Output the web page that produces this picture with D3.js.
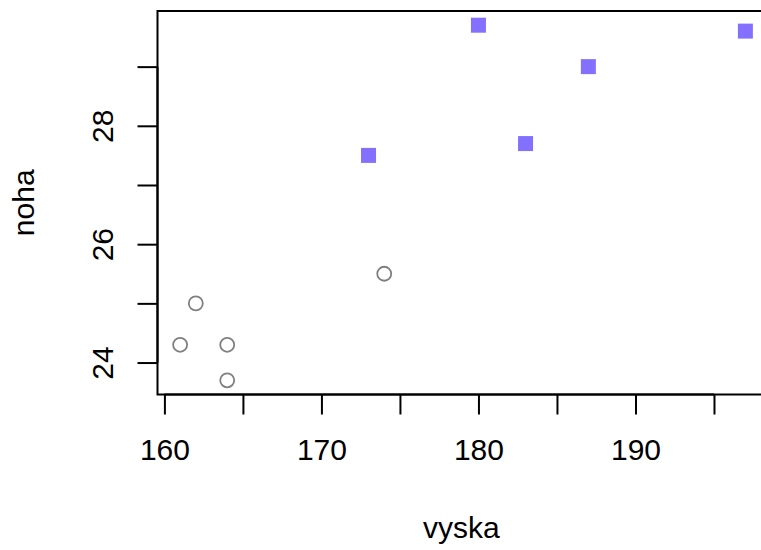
<!DOCTYPE html>
<html>
<head>
<meta charset="utf-8">
<script src="https://cdn.jsdelivr.net/npm/d3@7"></script>
<style>
  html, body { margin: 0; padding: 0; background: white; }
  svg { display: block; font-family: "Liberation Sans", Arial, sans-serif; }
</style>
</head>
<body>
<div id="chart"></div>
<script>
// circles (gray, open)
const vyskaA = [161, 162, 164, 164, 174];
const nohaA = [24.3, 25.0, 24.3, 23.7, 25.5];
// squares (filled)
const vyskaB = [173, 180, 183, 187, 197];
const nohaB = [27.5, 29.7, 27.7, 29.0, 29.6];

const xTicks = [160, 165, 170, 175, 180, 185, 190, 195];
const xLabels = [160, 170, 180, 190];
const yTicks = [24, 25, 26, 27, 28, 29];
const yLabels = [24, 26, 28];

const width = 761, height = 550;
const box = { left: 157.5, top: 11, bottom: 394.5, right: 768 };
const tickLen = 20;
const fontSize = 30;

const svg = d3.select('#chart').append('svg')
  .attr('width', width)
  .attr('height', height);

// R style: pad data range by 4% on each side
function padded(values) {
  const [lo, hi] = d3.extent(values);
  const pad = (hi - lo) * 0.04;
  return [lo - pad, hi + pad];
}

const x = d3.scaleLinear()
  .domain(padded(vyskaA.concat(vyskaB)))
  .range([box.left, box.right]);

const y = d3.scaleLinear()
  .domain(padded(nohaA.concat(nohaB)))
  .range([box.bottom, box.top]);

const pointsA = vyskaA.map((v, i) => ({ x: v, y: nohaA[i] }));
const pointsB = vyskaB.map((v, i) => ({ x: v, y: nohaB[i] }));

// points
svg.append('g')
  .selectAll('circle')
  .data(pointsA)
  .join('circle')
  .attr('cx', (d) => x(d.x))
  .attr('cy', (d) => y(d.y))
  .attr('r', 7)
  .attr('fill', 'none')
  .attr('stroke', '#808080')
  .attr('stroke-width', 1.8);

const side = 15;
svg.append('g')
  .selectAll('rect')
  .data(pointsB)
  .join('rect')
  .attr('x', (d) => x(d.x) - side / 2)
  .attr('y', (d) => y(d.y) - side / 2)
  .attr('width', side)
  .attr('height', side)
  .attr('fill', '#8470FF');

// box
svg.append('rect')
  .attr('x', box.left)
  .attr('y', box.top)
  .attr('width', box.right - box.left)
  .attr('height', box.bottom - box.top)
  .attr('fill', 'none')
  .attr('stroke', 'black')
  .attr('stroke-width', 2);

// x axis
const xAxis = d3.axisBottom(x)
  .tickValues(xTicks)
  .tickSize(tickLen)
  .tickPadding(24)
  .tickFormat((d) => (xLabels.includes(d) ? d : ''));

const gx = svg.append('g')
  .attr('transform', `translate(0,${box.bottom})`)
  .call(xAxis);
gx.select('.domain')
  .attr('d', `M${x(160)},0H${x(195)}`)
  .attr('stroke-width', 2);
gx.selectAll('.tick line').attr('stroke-width', 2);
gx.selectAll('.tick text')
  .attr('font-size', fontSize)
  .attr('font-family', '"Liberation Sans", Arial, sans-serif')
  .attr('fill', 'black');

// y axis
const yAxis = d3.axisLeft(y)
  .tickValues(yTicks)
  .tickSize(tickLen)
  .tickFormat((d) => (yLabels.includes(d) ? d : ''));

const gy = svg.append('g')
  .attr('transform', `translate(${box.left},0)`)
  .call(yAxis);
gy.select('.domain')
  .attr('d', `M0,${y(24)}V${y(29)}`)
  .attr('stroke-width', 2);
gy.selectAll('.tick line').attr('stroke-width', 2);
gy.selectAll('.tick text')
  .attr('font-size', fontSize)
  .attr('font-family', '"Liberation Sans", Arial, sans-serif')
  .attr('fill', 'black')
  .attr('x', null)
  .attr('dy', null)
  .attr('text-anchor', 'middle')
  .attr('transform', 'translate(-45,0) rotate(-90)');

// axis titles
svg.append('text')
  .attr('x', (box.left + 761) / 2 + 2)
  .attr('y', 538)
  .attr('text-anchor', 'middle')
  .attr('font-size', fontSize)
  .text('vyska');

svg.append('text')
  .attr('transform', `translate(34,${(box.top + box.bottom) / 2}) rotate(-90)`)
  .attr('text-anchor', 'middle')
  .attr('font-size', fontSize)
  .text('noha');
</script>
</body>
</html>
